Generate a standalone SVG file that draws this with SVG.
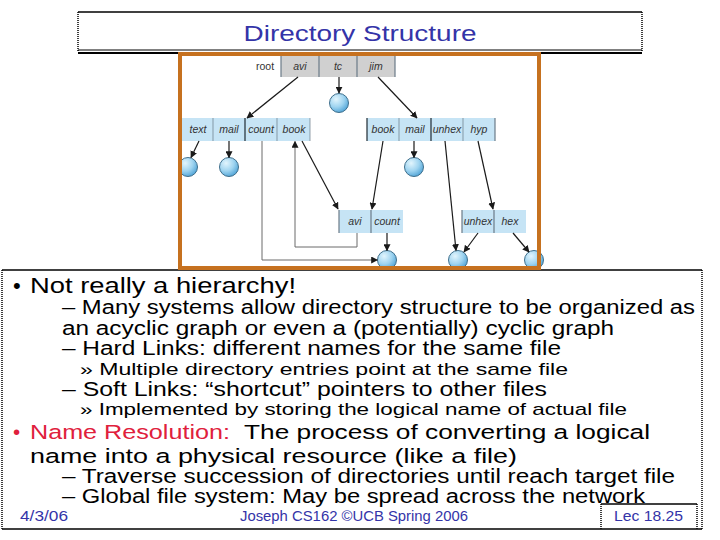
<svg xmlns="http://www.w3.org/2000/svg" width="720" height="540" viewBox="0 0 720 540">
<defs>
<radialGradient id="ball" cx="0.35" cy="0.3" r="0.75">
<stop offset="0" stop-color="#e2f5fd"/>
<stop offset="0.55" stop-color="#9fd4f0"/>
<stop offset="1" stop-color="#4fa3d6"/>
</radialGradient>
<marker id="ah" viewBox="0 0 10 10" refX="9" refY="5" markerWidth="7" markerHeight="7" markerUnits="userSpaceOnUse" orient="auto">
<path d="M0,0 L10,5 L0,10 z" fill="#1a1a1a"/>
</marker>
</defs>
<style>
.body{font-family:"Liberation Sans",Arial,sans-serif;fill:#000;}
.l1{font-size:22px;}
.l1b{font-size:20.5px;}
.l2{font-size:19.5px;}
.l3{font-size:17px;}
.red{fill:#e0203c;}
.blue{font-family:"Liberation Sans",Arial,sans-serif;fill:#3434a8;}
.cell{font-family:"Liberation Sans",Arial,sans-serif;font-size:10.5px;font-style:italic;fill:#333;text-anchor:middle;}
.gray{fill:#d0d0d0;}
.lb{fill:#c6e4f5;}
.sep{stroke:#6b7b88;stroke-width:1.2;}
.dk{stroke:#1f2a33;}
.lt{stroke-opacity:0.6;}
.ball{fill:url(#ball);stroke:#3f6f8c;stroke-width:1;}
.con{stroke:#1a1a1a;stroke-width:1.2;fill:none;}
.thin{stroke:#6a6a6a;stroke-width:1;fill:none;}
.dot{stroke:#000;stroke-width:1.5;stroke-dasharray:1 1;fill:none;}
.solid{stroke:#000;stroke-width:1.5;fill:none;}
</style>
<rect width="720" height="540" fill="#fff"/>

<!-- title box -->
<g id="title">
<line class="solid" x1="78" y1="12" x2="642" y2="12"/>
<line class="dot" x1="78" y1="12" x2="78" y2="52"/>
<line class="dot" x1="642" y1="12" x2="642" y2="52"/>
<line x1="78" y1="50" x2="642" y2="50" stroke="#000" stroke-width="1"/>
<line x1="78" y1="53" x2="642" y2="53" stroke="#000" stroke-width="2"/>
<text class="blue" x="360" y="41" font-size="22" text-anchor="middle" textLength="233" lengthAdjust="spacingAndGlyphs">Directory Structure</text>
</g>

<!-- text area frame -->
<g id="textframe">
<line class="solid" x1="2" y1="270" x2="702" y2="270"/>
<line class="dot" x1="2" y1="270" x2="2" y2="529"/>
<line class="dot" x1="702" y1="270" x2="702" y2="529"/>
<line class="solid" x1="2" y1="529" x2="702" y2="529"/>
<line class="solid" x1="601" y1="504" x2="697" y2="504"/>
<line class="dot" x1="601" y1="504" x2="601" y2="529"/>
<line class="dot" x1="697" y1="504" x2="697" y2="529"/>
</g>

<!-- tree nodes -->
<g id="root">
<text x="265" y="70" font-family="Liberation Sans, Arial, sans-serif" font-size="10.5" fill="#333" text-anchor="middle">root</text>
<rect class="gray" x="281" y="56" width="114" height="21"/>
<line class="sep" x1="281" y1="56" x2="281" y2="77"/>
<line class="sep" x1="319" y1="56" x2="319" y2="77"/>
<line class="sep" x1="357" y1="56" x2="357" y2="77"/>
<line class="sep" x1="395" y1="56" x2="395" y2="77"/>
<text class="cell" x="300" y="70">avi</text>
<text class="cell" x="338" y="70">tc</text>
<text class="cell" x="376" y="70">jim</text>
</g>

<g id="dir-avi">
<rect class="lb" x="182" y="118" width="128" height="23"/>
<line class="sep lt" x1="213" y1="118" x2="213" y2="141"/>
<line class="sep dk" x1="245" y1="118" x2="245" y2="141"/>
<line class="sep lt" x1="277" y1="118" x2="277" y2="141"/>
<line class="sep lt" x1="310" y1="118" x2="310" y2="141"/>
<text class="cell" x="198" y="133">text</text>
<text class="cell" x="229" y="133">mail</text>
<text class="cell" x="261" y="133">count</text>
<text class="cell" x="294" y="133">book</text>
</g>

<g id="dir-jim">
<rect class="lb" x="367" y="118" width="128" height="23"/>
<line class="sep dk" x1="367" y1="118" x2="367" y2="141"/>
<line class="sep lt" x1="399" y1="118" x2="399" y2="141"/>
<line class="sep dk" x1="431" y1="118" x2="431" y2="141"/>
<line class="sep lt" x1="463" y1="118" x2="463" y2="141"/>
<line class="sep" x1="495" y1="118" x2="495" y2="141"/>
<text class="cell" x="383" y="133">book</text>
<text class="cell" x="415" y="133">mail</text>
<text class="cell" x="447" y="133">unhex</text>
<text class="cell" x="479" y="133">hyp</text>
</g>

<g id="dir-book">
<rect class="lb" x="339" y="210" width="64" height="23"/>
<line class="sep" x1="339" y1="210" x2="339" y2="233"/>
<line class="sep" x1="371" y1="210" x2="371" y2="233"/>
<text class="cell" x="355" y="225">avi</text>
<text class="cell" x="387" y="225">count</text>
</g>

<g id="dir-hyp">
<rect class="lb" x="462" y="210" width="64" height="23"/>
<line class="sep" x1="462" y1="210" x2="462" y2="233"/>
<line class="sep" x1="494" y1="210" x2="494" y2="233"/>
<text class="cell" x="478" y="225">unhex</text>
<text class="cell" x="510" y="225">hex</text>
</g>

<g id="files">
<circle id="file-tc" class="ball" cx="339" cy="103" r="9.5"/>
<circle id="file-text" class="ball" cx="188" cy="167" r="9.5"/>
<circle id="file-mail1" class="ball" cx="229" cy="167" r="9.5"/>
<circle id="file-mail2" class="ball" cx="414" cy="167" r="9.5"/>
<circle id="file-count" class="ball" cx="387" cy="260" r="9.5"/>
<circle id="file-unhex" class="ball" cx="458" cy="260" r="9.5"/>
<circle id="file-hex" class="ball" cx="534" cy="260" r="9.5"/>
</g>

<!-- connectors -->
<g id="connectors">
<line class="con" x1="298" y1="77" x2="247" y2="118" marker-end="url(#ah)"/>
<line class="con" x1="339" y1="77" x2="339" y2="93" marker-end="url(#ah)"/>
<line class="con" x1="378" y1="77" x2="417" y2="118" marker-end="url(#ah)"/>
<line class="con" x1="199" y1="141" x2="191" y2="157.5" marker-end="url(#ah)"/>
<line class="con" x1="229" y1="141" x2="229" y2="157.5" marker-end="url(#ah)"/>
<polyline class="thin" points="262,141 262,260 377.5,260" marker-end="url(#ah)"/>
<line class="con" x1="302" y1="141" x2="338" y2="209" marker-end="url(#ah)"/>
<polyline class="thin" points="357,233 357,247 295,247 295,141.5" marker-end="url(#ah)"/>
<line class="con" x1="387" y1="233" x2="387" y2="250.5" marker-end="url(#ah)"/>
<line class="con" x1="383" y1="141" x2="372" y2="209" marker-end="url(#ah)"/>
<line class="con" x1="414" y1="141" x2="414" y2="157.5" marker-end="url(#ah)"/>
<line class="con" x1="445" y1="141" x2="456" y2="250.5" marker-end="url(#ah)"/>
<line class="con" x1="478" y1="141" x2="493" y2="209" marker-end="url(#ah)"/>
<line class="con" x1="478" y1="233" x2="464" y2="252" marker-end="url(#ah)"/>
<line class="con" x1="513" y1="233" x2="529" y2="252" marker-end="url(#ah)"/>
</g>

<!-- orange frame -->
<rect id="frame" x="180" y="54" width="359" height="214" fill="none" stroke="#c6711f" stroke-width="4"/>

<!-- body text -->
<g id="bodytext" class="body">
<text class="l1" x="13" y="293">•</text>
<text class="l1" x="30" y="293" textLength="266" lengthAdjust="spacingAndGlyphs">Not really a hierarchy!</text>
<text class="l2" x="62" y="314" textLength="633" lengthAdjust="spacingAndGlyphs">– Many systems allow directory structure to be organized as</text>
<text class="l2" x="62" y="335" textLength="552" lengthAdjust="spacingAndGlyphs">an acyclic graph or even a (potentially) cyclic graph</text>
<text class="l2" x="62" y="355" textLength="499" lengthAdjust="spacingAndGlyphs">– Hard Links: different names for the same file</text>
<text class="l3" x="80" y="375" textLength="488" lengthAdjust="spacingAndGlyphs">» Multiple directory entries point at the same file</text>
<text class="l2" x="62" y="396" textLength="485" lengthAdjust="spacingAndGlyphs">– Soft Links: “shortcut” pointers to other files</text>
<text class="l3" x="80" y="415" textLength="547" lengthAdjust="spacingAndGlyphs">» Implemented by storing the logical name of actual file</text>
<text class="l1b red" x="13" y="439">•</text>
<text class="l1b red" x="30" y="439" textLength="200" lengthAdjust="spacingAndGlyphs">Name Resolution:</text>
<text class="l1b" x="244" y="439" textLength="406" lengthAdjust="spacingAndGlyphs">The process of converting a logical</text>
<text class="l1b" x="30" y="463" textLength="487" lengthAdjust="spacingAndGlyphs">name into a physical resource (like a file)</text>
<text class="l2" x="62" y="483" textLength="613" lengthAdjust="spacingAndGlyphs">– Traverse succession of directories until reach target file</text>
<text class="l2" x="62" y="503" textLength="583" lengthAdjust="spacingAndGlyphs">– Global file system: May be spread across the network</text>
</g>

<g id="footer">
<text class="blue" x="20" y="521" font-size="14" textLength="48" lengthAdjust="spacingAndGlyphs">4/3/06</text>
<text class="blue" x="240" y="521" font-size="14" textLength="228" lengthAdjust="spacingAndGlyphs">Joseph CS162 ©UCB Spring 2006</text>
<text class="blue" x="614" y="521" font-size="14" textLength="69" lengthAdjust="spacingAndGlyphs">Lec 18.25</text>
</g>
</svg>
